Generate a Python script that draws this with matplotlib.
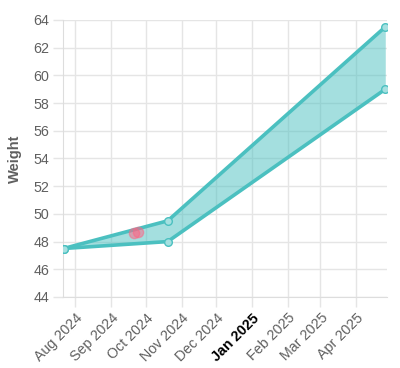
import matplotlib
matplotlib.use("Agg")
import matplotlib.pyplot as plt
import numpy as np
import pandas as pd

# band data (upper / lower weight estimates)
band_dates = pd.to_datetime(["2024-07-22", "2024-10-20", "2025-04-26"])
upper = [47.5, 49.5, 63.5]
lower = [47.5, 48.0, 59.0]

# measured points
meas_dates = pd.to_datetime(["2024-09-21", "2024-09-24"])
meas_vals = [48.6, 48.7]

tick_dates = pd.date_range("2024-08-01", "2025-04-01", freq="MS")
tick_labels = [d.strftime("%b %Y") for d in tick_dates]

teal = "#4bc0c0"
pink = "#ff6384"
grid_c = "#e5e5e5"
text_c = "#5f5f5f"

plt.rcParams["font.family"] = ["Liberation Sans", "DejaVu Sans"]

fig = plt.figure(figsize=(4.0, 3.68), dpi=100)
ax = fig.add_axes([0.1575, 0.193, 0.81, 0.7527])

ax.fill_between(band_dates, lower, upper, color=teal, alpha=0.5, lw=0, zorder=2)
ax.plot(band_dates, upper, color=teal, lw=2.6, zorder=3,
        marker="o", ms=5.5, mfc="#a5e0e0", mec=teal, mew=1)
ax.plot(band_dates, lower, color=teal, lw=2.6, zorder=3,
        marker="o", ms=5.5, mfc="#a5e0e0", mec=teal, mew=1)
ax.scatter(meas_dates, meas_vals, s=55, color=pink, alpha=0.5,
           edgecolors=pink, linewidths=1, zorder=4)

ax.set_xlim(band_dates[0] - pd.Timedelta(days=0.5), band_dates[-1] + pd.Timedelta(days=1.5))
ax.set_ylim(44, 64)
ax.set_yticks(np.arange(44, 65, 2))
ax.set_xticks(tick_dates)
ax.set_xticklabels(tick_labels, rotation=45, ha="right", rotation_mode="anchor")

for lab in ax.get_xticklabels():
    if lab.get_text().startswith("Jan"):
        lab.set_color("black")
        lab.set_fontweight("bold")
    else:
        lab.set_color(text_c)
for lab in ax.get_yticklabels():
    lab.set_color(text_c)

ax.tick_params(axis="both", labelsize=10.3, length=7, width=1, color=grid_c, pad=3)
ax.grid(True, color=grid_c, lw=1, zorder=0)
ax.set_axisbelow(True)
for side in ["top", "right"]:
    ax.spines[side].set_visible(False)
for side in ["left", "bottom"]:
    ax.spines[side].set_color("#dddddd")

ax.set_ylabel("Weight", color=text_c, fontweight="bold", fontsize=10.5, labelpad=8)

fig.savefig("out.png", dpi=100)
